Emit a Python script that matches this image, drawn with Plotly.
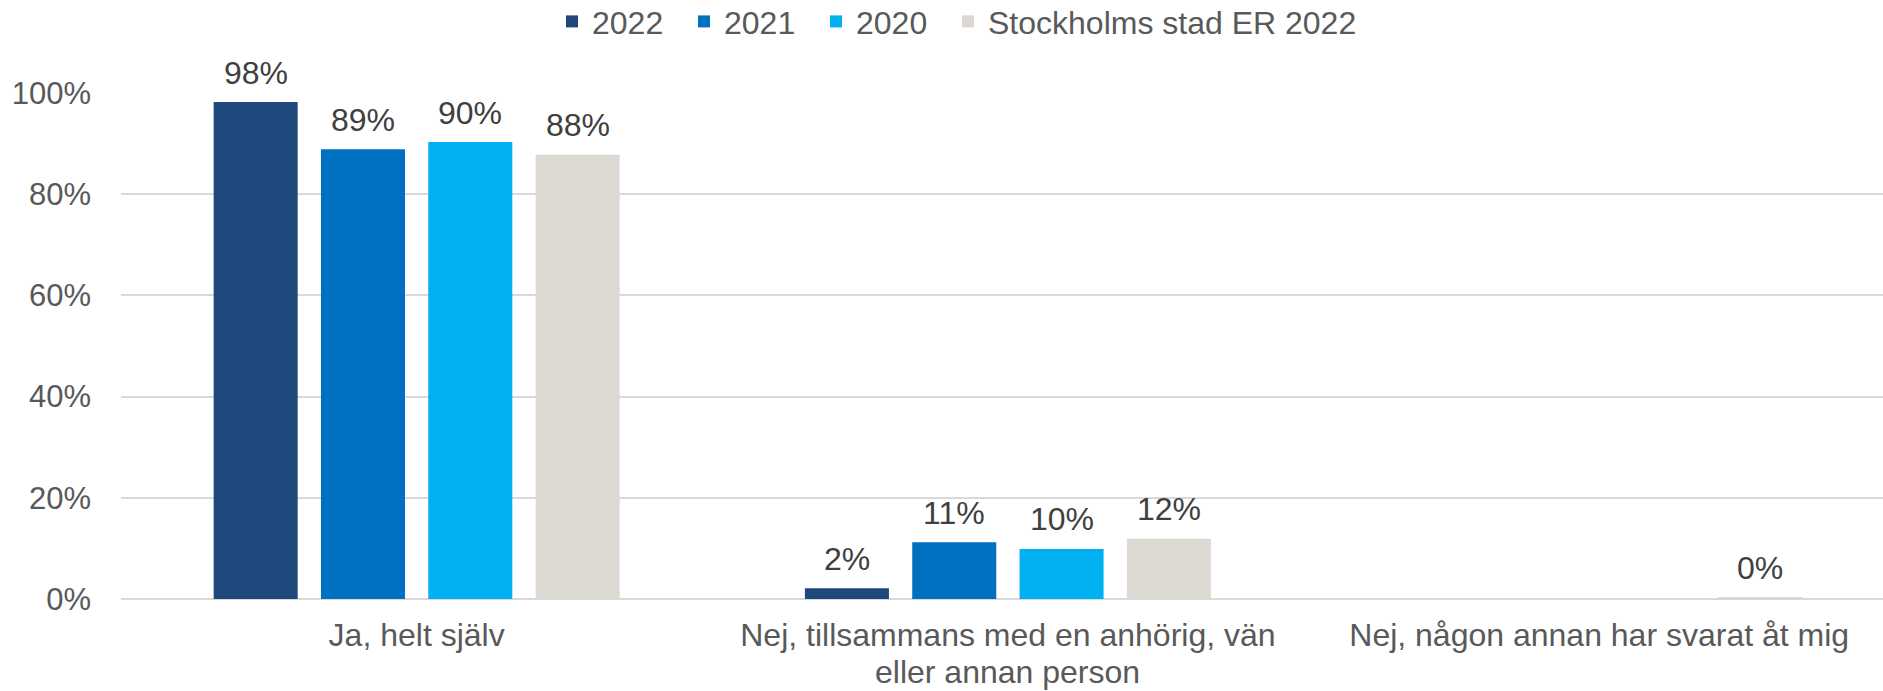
import plotly.graph_objects as go

categories = ["Ja, helt själv",
              "Nej, tillsammans med en anhörig, vän eller annan person",
              "Nej, någon annan har svarat åt mig"]
tick_first_lines = ["Ja, helt själv",
                    "Nej, tillsammans med en anhörig, vän",
                    "Nej, någon annan har svarat åt mig"]
tick_extra_lines = [None, "eller annan person", None]
series_names = ["2022", "2021", "2020", "Stockholms stad ER 2022"]
v2022 = [98.2, 2.1, None]
v2021 = [88.9, 11.2, None]
v2020 = [90.3, 9.9, None]
vstad = [87.8, 11.9, 0.3]
colors = ["#1F497D", "#0070C0", "#00B0F0", "#DCD9D3"]
tick_vals = [0, 20, 40, 60, 80, 100]
tick_text = ["0%", "20%", "40%", "60%", "80%", "100%"]

FONT = "Liberation Sans, Arial, sans-serif"
W, H = 1883, 691
BARGAP, BARGROUPGAP = 0.274, 0.217
legend_text_x = [589, 721, 853, 985]   # legend text start (px)
legend_ids = ["legend", "legend2", "legend3", "legend4"]
all_series = [v2022, v2021, v2020, vstad]

fig = go.Figure()
for name, vals, col, lid in zip(series_names, all_series, colors, legend_ids):
    fig.add_trace(go.Bar(
        x=categories, y=vals, name=name, legend=lid, showlegend=True,
        marker=dict(color=col, line=dict(width=0)),
        hovertemplate="%{x}<br>%{y:.0f}%<extra>" + name + "</extra>",
    ))

# value labels above each bar (positioned in data coordinates of the grouped bars)
n = len(all_series)
slot = (1 - BARGAP) / n
for i, vals in enumerate(all_series):
    for j, v in enumerate(vals):
        if v is None:
            continue
        fig.add_annotation(x=j + (i - (n - 1) / 2) * slot, xref="x", y=v, yref="y",
                           yanchor="middle", yshift=29.5, text=f"{v:.0f}%",
                           showarrow=False,
                           font=dict(size=32, color="#404040", family=FONT))

layout_legends = {}
for lid, tx in zip(legend_ids, legend_text_x):
    layout_legends[lid] = dict(
        orientation="h", xref="container", x=(tx - 37) / W, xanchor="left",
        yref="container", y=1 - 21.6 / H, yanchor="middle",
        font=dict(size=32, color="#595959", family=FONT),
        bgcolor="rgba(0,0,0,0)", borderwidth=0, visible=True,
    )

fig.update_layout(
    width=W, height=H, showlegend=True,
    plot_bgcolor="white", paper_bgcolor="white",
    margin=dict(l=121, r=0, t=92.5, b=91.7, autoexpand=False),
    barmode="group", bargap=BARGAP, bargroupgap=BARGROUPGAP,
    font=dict(family=FONT, size=32, color="#595959"),
    **layout_legends,
)
fig.update_yaxes(range=[0, 100], tickvals=tick_vals, ticktext=tick_text,
                 gridcolor="#D9D9D9", gridwidth=2, zeroline=True, zerolinecolor="#D9D9D9",
                 zerolinewidth=2, showline=False, ticks="", ticklen=0,
                 ticklabelstandoff=29,
                 tickfont=dict(size=31, color="#595959"))
fig.update_xaxes(range=[-0.5, 2.48], tickvals=categories, ticktext=tick_first_lines,
                 showline=False, ticks="", ticklabelstandoff=14,
                 tickfont=dict(size=32, color="#595959"))

plot_h = H - 92.5 - 91.7
for cat, extra in zip(categories, tick_extra_lines):
    if extra:
        fig.add_annotation(x=cat, xref="x", y=-(672 - (H - 91.7)) / plot_h, yref="paper",
                           yanchor="middle", text=extra, showarrow=False,
                           font=dict(size=32, color="#595959", family=FONT))

fig.write_html("out.html", config={"displayModeBar": False},
               post_script="document.body.style.margin='0px';")
